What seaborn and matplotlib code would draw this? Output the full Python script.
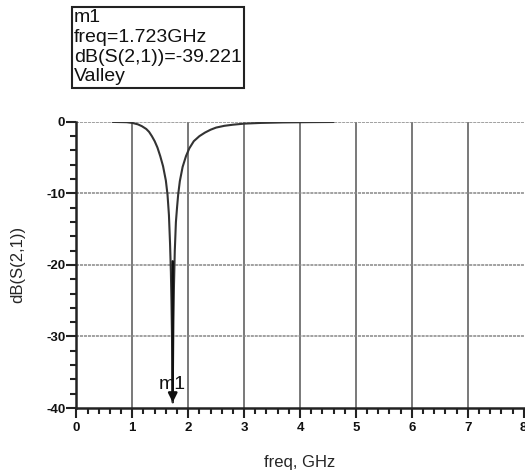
import numpy as np
import pandas as pd
import seaborn as sns
import matplotlib.pyplot as plt
from matplotlib.ticker import MultipleLocator

# values
freq = [0.65, 0.9, 1.0, 1.1, 1.17, 1.25, 1.3, 1.35, 1.4, 1.45, 1.5, 1.55, 1.6,
        1.63, 1.655, 1.675, 1.69, 1.70, 1.71, 1.717, 1.723,
        1.728, 1.735, 1.745, 1.76, 1.78, 1.8, 1.82, 1.85, 1.9, 1.96, 2.02, 2.1,
        2.2, 2.3, 2.4, 2.5, 2.65, 2.8, 3.0, 3.3, 3.7, 4.2, 4.6]
s21_db = [-0.01, -0.05, -0.15, -0.35, -0.6, -1.0, -1.4, -2.0, -2.7, -3.6, -4.8, -6.2, -8.2,
          -10.2, -13, -17, -21, -25, -30, -35, -39.221,
          -34, -28, -23, -18, -14, -12, -10.2, -8.3, -6.3, -4.8, -3.7, -2.7,
          -2.0, -1.5, -1.1, -0.8, -0.55, -0.4, -0.25, -0.15, -0.08, -0.04, -0.02]

marker_freq = 1.723
marker_db = -39.221
marker_text = "m1\nfreq=1.723GHz\ndB(S(2,1))=-39.221\nValley"

df = pd.DataFrame({'freq': freq, 'db': s21_db})

sns.set_theme(style='white')
plt.rcParams['font.family'] = ['Liberation Sans', 'DejaVu Sans']
plt.rcParams['axes.unicode_minus'] = False

fig = plt.figure(figsize=(5.25, 4.73), dpi=100)
ax = fig.add_axes([0.1455, 0.1374, 0.852, 0.605])

sns.lineplot(data=df, x='freq', y='db', color='#333333', lw=1.5, ax=ax, zorder=3)

ax.set_xlim(0, 8)
ax.set_ylim(-40, 0)
ax.xaxis.set_major_locator(MultipleLocator(1))
ax.xaxis.set_minor_locator(MultipleLocator(0.2))
ax.yaxis.set_major_locator(MultipleLocator(10))
ax.yaxis.set_minor_locator(MultipleLocator(2))

for x in range(1, 8):
    ax.axvline(x, color='#555555', lw=1.1, zorder=1)
for y in [0, -10, -20, -30]:
    ax.axhline(y, color='#888888', lw=1.1, ls=(0, (2, 0.6)), zorder=1)

for side in ['top', 'right']:
    ax.spines[side].set_visible(False)
for side in ['left', 'bottom']:
    ax.spines[side].set_color('#222222')
    ax.spines[side].set_linewidth(1.8)

ax.tick_params(which='both', bottom=True, left=True, top=False, right=False)
ax.tick_params(which='major', direction='out', length=7, width=1.5, color='#222222',
               labelsize=9.5, labelcolor='#111111')
ax.tick_params(which='minor', direction='out', length=4.5, width=1.5, color='#222222')
ax.tick_params(axis='x', which='major', pad=3)
ax.tick_params(axis='y', which='major', pad=1)
for lab in ax.get_xticklabels() + ax.get_yticklabels():
    lab.set_fontweight('bold')

ax.set_xlabel('freq, GHz', fontsize=12, labelpad=15)
ax.set_ylabel('dB(S(2,1))', fontsize=12, labelpad=15)

# marker arrow and label
ax.annotate('', xy=(marker_freq, marker_db), xytext=(marker_freq, -19.5),
            arrowprops=dict(arrowstyle='-|>', color='#111111', lw=1.8,
                            mutation_scale=13, shrinkA=0, shrinkB=0), zorder=4)
ax.text(marker_freq, -37.4, 'm1', fontsize=14, ha='center', va='baseline', color='#111111')

fig.text(0.141, 0.980, marker_text, fontsize=14, ha='left', va='top', linespacing=1.2,
         color='#111111',
         bbox=dict(boxstyle='square,pad=0.12', fc='white', ec='#222222', lw=1.5))

fig.savefig('out.png', dpi=100)
